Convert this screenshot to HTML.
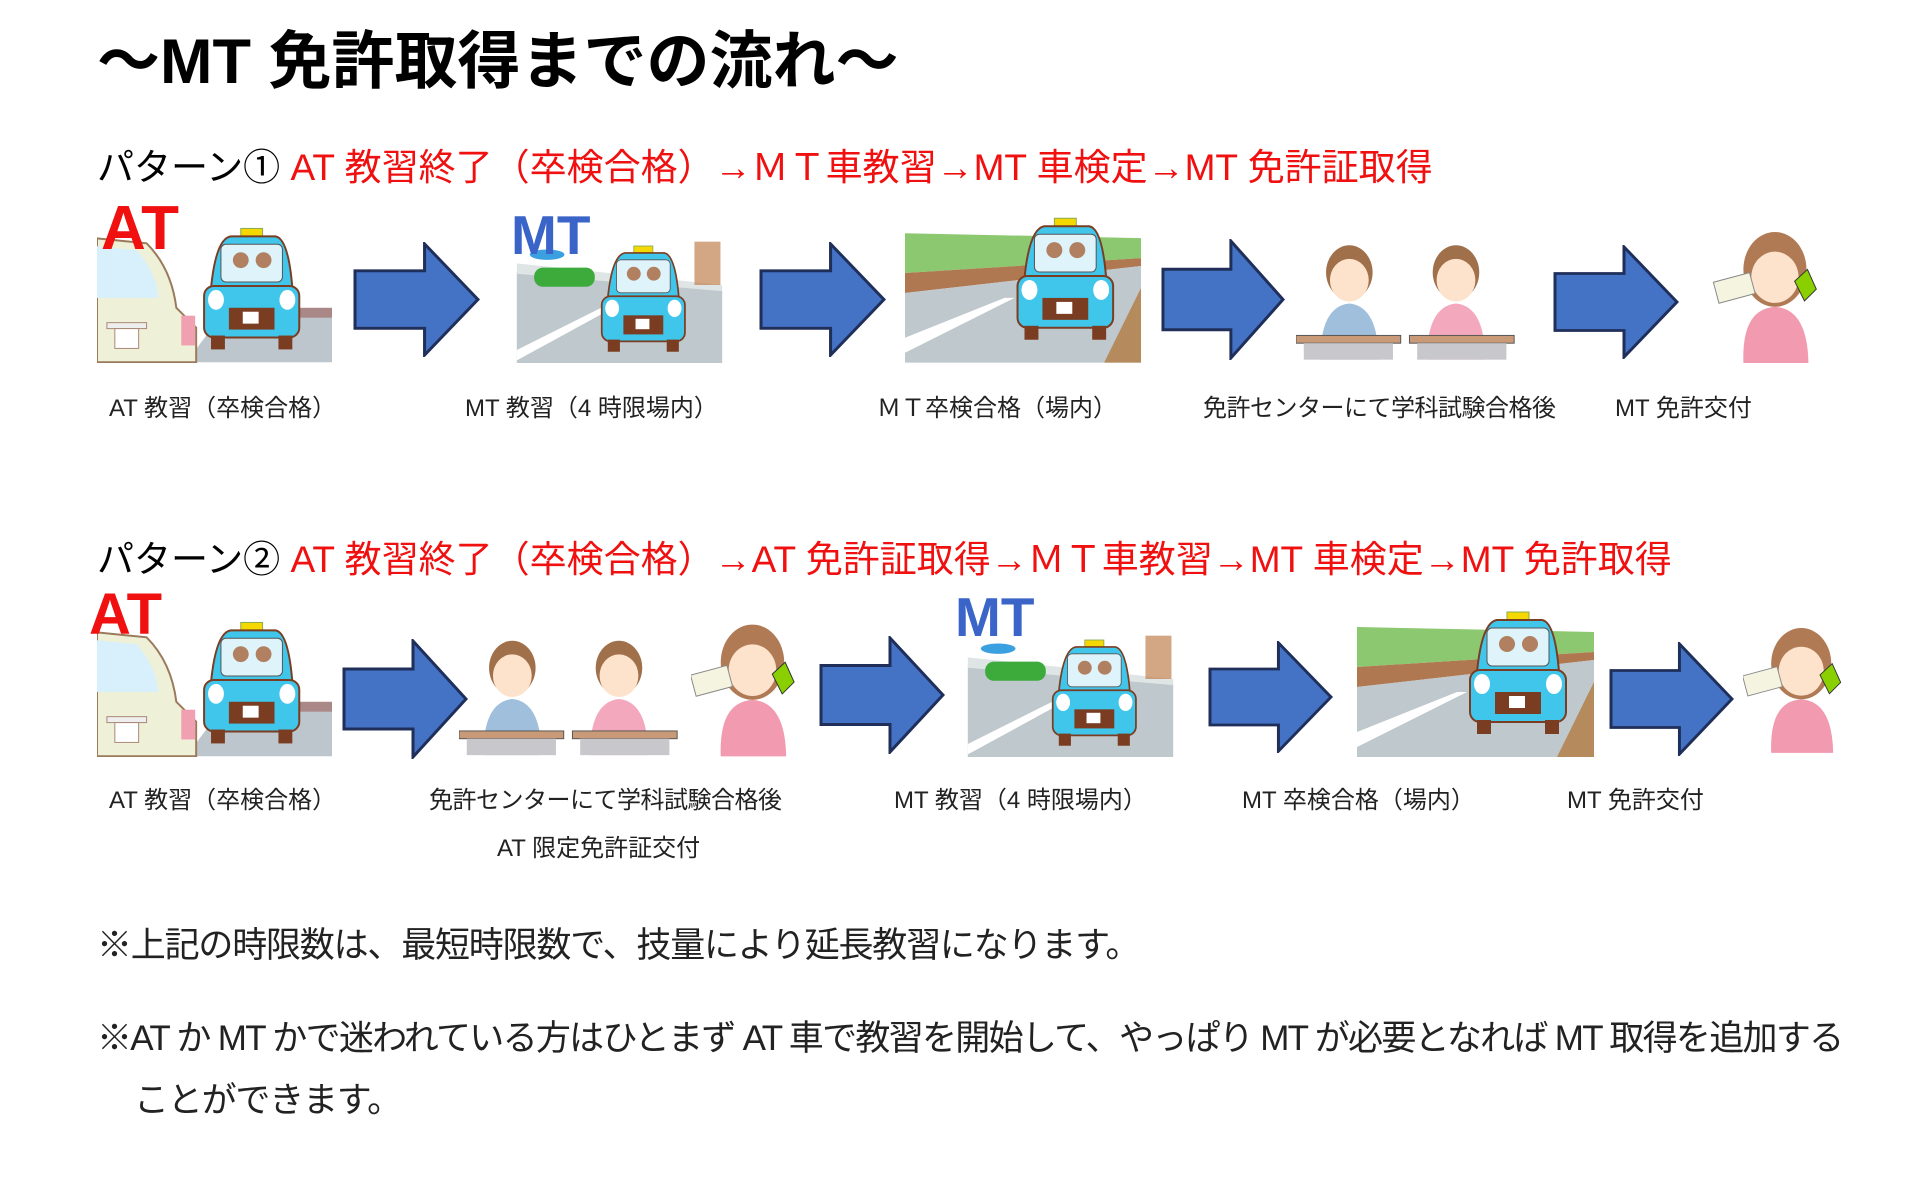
<!DOCTYPE html>
<html><head><meta charset="utf-8"><style>
body{margin:0;width:1920px;height:1182px;background:#fff;position:relative;overflow:hidden;font-family:"Liberation Sans","Noto Sans CJK JP",sans-serif;}
.t{position:absolute;white-space:nowrap;line-height:1;z-index:2;}
.lab{font-size:24px;color:#222;}
.red{color:#f01010}
svg.a{position:absolute;z-index:1;}
</style></head><body>
<svg width="0" height="0" style="position:absolute">
<defs>
<symbol id="arrow" viewBox="0 0 126 120" preserveAspectRatio="none">
<polygon points="2,30 71,30 71,2 124,60 71,118 71,90 2,90" fill="#4472c4" stroke="#1f2f5a" stroke-width="3"/>
</symbol>
<g id="taxi">
<rect x="70" y="20" width="22" height="8" fill="#f5d800" stroke="#8a5"/>
<path d="M40,80 Q45,30 60,28 L105,28 Q118,30 122,80 Z" fill="#3fc6ea" stroke="#7a3d22" stroke-width="2"/>
<rect x="50" y="36" width="62" height="38" rx="5" fill="#dff3fb" stroke="#555"/>
<circle cx="70" cy="52" r="8" fill="#b08060"/><circle cx="93" cy="52" r="8" fill="#b08060"/>
<rect x="33" y="78" width="96" height="52" rx="10" fill="#3fc6ea" stroke="#7a3d22" stroke-width="2"/>
<rect x="58" y="100" width="46" height="22" fill="#7a3d22"/>
<rect x="72" y="104" width="16" height="12" fill="#fff"/>
<ellipse cx="45" cy="92" rx="8" ry="10" fill="#fff"/><ellipse cx="117" cy="92" rx="8" ry="10" fill="#fff"/>
<rect x="40" y="128" width="14" height="14" fill="#7a3d22"/><rect x="108" y="128" width="14" height="14" fill="#7a3d22"/>
</g>
<symbol id="carAT" viewBox="0 0 237 165">
<rect x="0" y="0" width="237" height="165" fill="#fff"/>
<polygon points="120,125 237,118 237,165 90,165" fill="#bcc6cc"/>
<rect x="190" y="110" width="47" height="10" fill="#a88"/>
<use href="#taxi" transform="translate(75,10)"/>
<path d="M0,40 L50,45 Q75,70 80,110 L100,130 L100,165 L0,165Z" fill="#eef0d8" stroke="#9a7a5a" stroke-width="2"/>
<path d="M0,48 L40,52 Q60,75 62,100 L0,100Z" fill="#d8f0fb"/>
<rect x="10" y="125" width="40" height="6" fill="#eee" stroke="#a87"/>
<rect x="18" y="131" width="24" height="20" fill="#fff" stroke="#a87"/>
<rect x="85" y="118" width="14" height="30" fill="#f0a0b0"/>
</symbol>
<symbol id="carMT" viewBox="0 0 237 165">
<rect width="237" height="165" fill="#fff"/>
<polygon points="0,60 237,80 237,165 0,165" fill="#bfc8cc"/>
<polygon points="0,50 237,75 237,82 0,62" fill="#dfe5e5"/>
<polygon points="0,150 100,100 110,102 0,162" fill="#fff"/>
<rect x="20" y="55" width="70" height="22" rx="10" fill="#3cab3c"/>
<ellipse cx="35" cy="40" rx="20" ry="6" fill="#3aa0e0"/>
<rect x="205" y="25" width="30" height="50" fill="#c08050" opacity=".7"/>
<use href="#taxi" transform="translate(65,10)"/>
</symbol>
<symbol id="car3" viewBox="0 0 237 165">
<rect width="237" height="165" fill="#fff"/>
<polygon points="0,35 237,40 237,60 0,75" fill="#8bc870"/>
<polygon points="0,75 237,60 237,68 0,95" fill="#b07850"/>
<polygon points="0,95 237,68 237,165 0,165" fill="#bfc8cc"/>
<polygon points="0,140 100,100 110,100 0,155" fill="#fff"/>
<polygon points="237,90 237,165 200,165" fill="#b58a5c"/>
<use href="#taxi" transform="translate(80,0)"/>
</symbol>
<g id="person">
<ellipse cx="35" cy="30" rx="24" ry="28" fill="#a0704a"/>
<ellipse cx="35" cy="38" rx="20" ry="22" fill="#fde2cc"/>
<path d="M5,120 Q5,65 35,62 Q65,65 65,120Z" fill="var(--c)"/>
</g>
<symbol id="students" viewBox="0 0 230 120">
<use href="#person" style="--c:#9fbfdc" transform="translate(20,0)"/>
<use href="#person" style="--c:#f4a8be" transform="translate(130,0)"/>
<rect x="0" y="95" width="108" height="8" fill="#c89a78" stroke="#555"/>
<rect x="8" y="103" width="92" height="17" fill="#c8c8cc"/>
<rect x="117" y="95" width="108" height="8" fill="#c89a78" stroke="#555"/>
<rect x="125" y="103" width="92" height="17" fill="#c8c8cc"/>
</symbol>
<symbol id="woman" viewBox="0 0 115 135">
<ellipse cx="62" cy="40" rx="32" ry="38" fill="#b07a55"/>
<ellipse cx="62" cy="48" rx="24" ry="26" fill="#fde2cc"/>
<path d="M30,135 Q28,80 62,78 Q95,80 96,135Z" fill="#f29ab0"/>
<rect x="2" y="48" width="38" height="22" fill="#f4f4e0" stroke="#888" transform="rotate(-15 20 60)"/>
<polygon points="82,52 95,40 104,60 92,72" fill="#8ad000" stroke="#333"/>
</symbol>
</defs>
</svg>

<div class="t" style="left:97px;top:31px;font-size:63px;font-weight:bold;color:#000;">～MT 免許取得までの流れ～</div>

<div class="t" style="left:97px;top:149px;font-size:37px;"><span>パターン①</span> <span class="red">AT 教習終了（卒検合格）→ＭＴ車教習→MT 車検定→MT 免許証取得</span></div>

<svg class="a" style="left:97px;top:198px" width="235" height="165"><use href="#carAT"/></svg>
<svg class="a" style="left:501px;top:220px" width="237" height="143"><use href="#carMT"/></svg>
<svg class="a" style="left:905px;top:198px" width="236" height="165"><use href="#car3"/></svg>
<svg class="a" style="left:1296px;top:240px" width="223" height="123"><use href="#students"/></svg>
<svg class="a" style="left:1712px;top:230px" width="117" height="133"><use href="#woman"/></svg>
<div class="t" style="left:101px;top:198px;font-size:62px;font-weight:bold;color:#f01010;">AT</div>
<div class="t" style="left:511px;top:208px;font-size:55px;font-weight:bold;color:#3a64c8;">MT</div>

<svg class="a" style="left:353px;top:242px" width="127" height="115"><use href="#arrow"/></svg>
<svg class="a" style="left:759px;top:242px" width="127" height="115"><use href="#arrow"/></svg>
<svg class="a" style="left:1161px;top:239px" width="124" height="121"><use href="#arrow"/></svg>
<svg class="a" style="left:1553px;top:245px" width="126" height="114"><use href="#arrow"/></svg>

<div class="t lab" style="left:109px;top:397px;">AT 教習（卒検合格）</div>
<div class="t lab" style="left:465px;top:397px;">MT 教習（4 時限場内）</div>
<div class="t lab" style="left:877px;top:397px;">ＭＴ卒検合格（場内）</div>
<div class="t lab" style="left:1203px;top:397px;letter-spacing:-0.5px">免許センターにて学科試験合格後</div>
<div class="t lab" style="left:1615px;top:397px;">MT 免許交付</div>

<div class="t" style="left:97px;top:541px;font-size:37px;"><span>パターン②</span> <span class="red">AT 教習終了（卒検合格）→AT 免許証取得→ＭＴ車教習→MT 車検定→MT 免許取得</span></div>

<svg class="a" style="left:97px;top:592px" width="235" height="165"><use href="#carAT"/></svg>
<svg class="a" style="left:459px;top:637px" width="223" height="120"><use href="#students"/></svg>
<svg class="a" style="left:691px;top:622px" width="114" height="135"><use href="#woman"/></svg>
<svg class="a" style="left:953px;top:614px" width="235" height="143"><use href="#carMT"/></svg>
<svg class="a" style="left:1357px;top:592px" width="237" height="165"><use href="#car3"/></svg>
<svg class="a" style="left:1743px;top:622px" width="108" height="135"><use href="#woman"/></svg>
<div class="t" style="left:89px;top:586px;font-size:58px;font-weight:bold;color:#f01010;">AT</div>
<div class="t" style="left:955px;top:590px;font-size:55px;font-weight:bold;color:#3a64c8;">MT</div>

<svg class="a" style="left:342px;top:639px" width="126" height="120"><use href="#arrow"/></svg>
<svg class="a" style="left:819px;top:636px" width="126" height="118"><use href="#arrow"/></svg>
<svg class="a" style="left:1208px;top:641px" width="125" height="112"><use href="#arrow"/></svg>
<svg class="a" style="left:1609px;top:642px" width="125" height="114"><use href="#arrow"/></svg>

<div class="t lab" style="left:109px;top:789px;">AT 教習（卒検合格）</div>
<div class="t lab" style="left:429px;top:789px;letter-spacing:-0.5px">免許センターにて学科試験合格後</div>
<div class="t lab" style="left:497px;top:837px;">AT 限定免許証交付</div>
<div class="t lab" style="left:894px;top:789px;">MT 教習（4 時限場内）</div>
<div class="t lab" style="left:1242px;top:789px;">MT 卒検合格（場内）</div>
<div class="t lab" style="left:1567px;top:789px;">MT 免許交付</div>

<div class="t" style="left:97px;top:928px;font-size:35px;color:#222;letter-spacing:-1.2px;">※上記の時限数は、最短時限数で、技量により延長教習になります。</div>
<div class="t" style="left:97px;top:1021px;font-size:35px;color:#222;letter-spacing:-1.7px;">※AT か MT かで迷われている方はひとまず AT 車で教習を開始して、やっぱり MT が必要となれば MT 取得を追加する</div>
<div class="t" style="left:134px;top:1083px;font-size:35px;color:#222;letter-spacing:-1.2px;">ことができます。</div>
</body></html>
